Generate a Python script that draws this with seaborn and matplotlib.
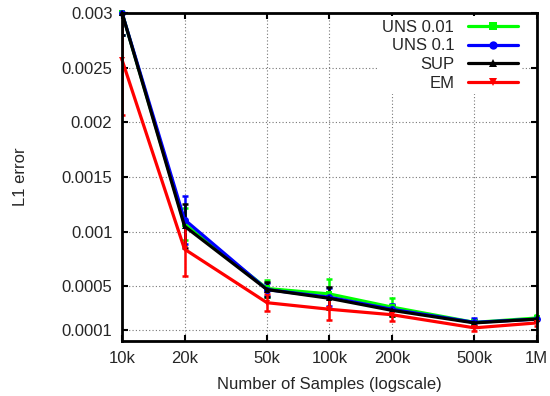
import matplotlib
matplotlib.use("Agg")
import matplotlib.pyplot as plt
import seaborn as sns
import pandas as pd
import numpy as np

samples = [10000, 20000, 50000, 100000, 200000, 500000, 1000000]
tick_labels = ["10k", "20k", "50k", "100k", "200k", "500k", "1M"]
yticks = [0.0001, 0.0005, 0.001, 0.0015, 0.002, 0.0025, 0.003]
ytick_labels = ["0.0001", "0.0005", "0.001", "0.0015", "0.002", "0.0025", "0.003"]

uns001 = [0.003, 0.00107, 0.00048, 0.00043, 0.00031, 0.00017, 0.00021]
uns01 = [0.003, 0.00111, 0.00047, 0.00040, 0.00029, 0.00017, 0.00020]
sup = [0.003, 0.00105, 0.00047, 0.00039, 0.00028, 0.000165, 0.00020]
em = [0.00257, 0.00084, 0.00035, 0.00029, 0.00024, 0.00012, 0.000165]

uns001_err = [0.0002, 0.00015, 0.00008, 0.00014, 0.00008, 0.00003, 0.00003]
uns01_err = [0.0002, 0.00022, 0.00006, 0.00008, 0.00005, 0.00004, 0.00003]
sup_err = [0.0002, 0.0002, 0.00007, 0.0001, 0.00005, 0.00003, 0.00003]
em_err = [0.0005, 0.00025, 0.00008, 0.0001, 0.00006, 0.00003, 0.00003]

series = [
    ("UNS 0.01", uns001, uns001_err, "#00ff00", "s"),
    ("UNS 0.1", uns01, uns01_err, "#0000ff", "o"),
    ("SUP", sup, sup_err, "#000000", "^"),
    ("EM", em, em_err, "#ff0000", "v"),
]

sns.set_style("ticks")
plt.rcParams['font.family'] = ['Liberation Sans', 'DejaVu Sans']
plt.rcParams['font.size'] = 12

fig = plt.figure(figsize=(5.5, 3.96), dpi=100)
ax = fig.add_axes([0.222, 0.139, 0.754, 0.828])

rows = []
for name, vals, errs, col, mk in series:
    for s, v in zip(samples, vals):
        rows.append({"samples": s, "err": v, "method": name})
df = pd.DataFrame(rows)

palette = {name: col for name, vals, errs, col, mk in series}
markers = {name: mk for name, vals, errs, col, mk in series}

for name, vals, errs, col, mk in series:
    ax.errorbar(samples, vals, yerr=errs, fmt="none", ecolor=col,
                elinewidth=1.8, capsize=2.5, capthick=1.8, zorder=3, clip_on=True)

sns.lineplot(data=df, x="samples", y="err", hue="method", style="method",
             palette=palette, markers=markers, dashes=False, ax=ax,
             linewidth=2.3, markersize=5, markeredgewidth=0, zorder=4,
             legend=False, clip_on=False)

ax.set_xscale("log")
ax.set_xlim(10000, 1000000)
ax.set_ylim(0, 0.003)
ax.set_xticks(samples)
ax.set_xticklabels(tick_labels)
ax.minorticks_off()
ax.set_yticks(yticks)
ax.set_yticklabels(ytick_labels)
ax.tick_params(direction="in", length=4, width=1.5, top=True, right=True,
               labelsize=12, pad=7, color="black")
ax.grid(True, linestyle=(0, (1, 2)), color="#777777", linewidth=0.8)
for sp in ax.spines.values():
    sp.set_linewidth(2.0)
    sp.set_color("black")
    sp.set_zorder(6)
ax.set_xlabel("Number of Samples (logscale)", fontsize=12, labelpad=8)
ax.set_ylabel("L1 error", fontsize=12, labelpad=24)

from matplotlib.lines import Line2D
handles = []
for name, vals, errs, col, mk in series:
    handles.append(Line2D([0], [0], color=col, linewidth=2.3, marker=mk,
                          markersize=6, markeredgewidth=0))
leg = ax.legend(handles, [s[0] for s in series], loc="upper right",
                bbox_to_anchor=(0.962, 0.99),
                frameon=True, markerfirst=False, fontsize=12,
                handlelength=3.0, handletextpad=0.8, labelspacing=0.22,
                borderaxespad=0.0, borderpad=0.2, facecolor="white",
                edgecolor="white", framealpha=1.0)
leg.get_frame().set_linewidth(0)

fig.savefig("out.png", dpi=100)
